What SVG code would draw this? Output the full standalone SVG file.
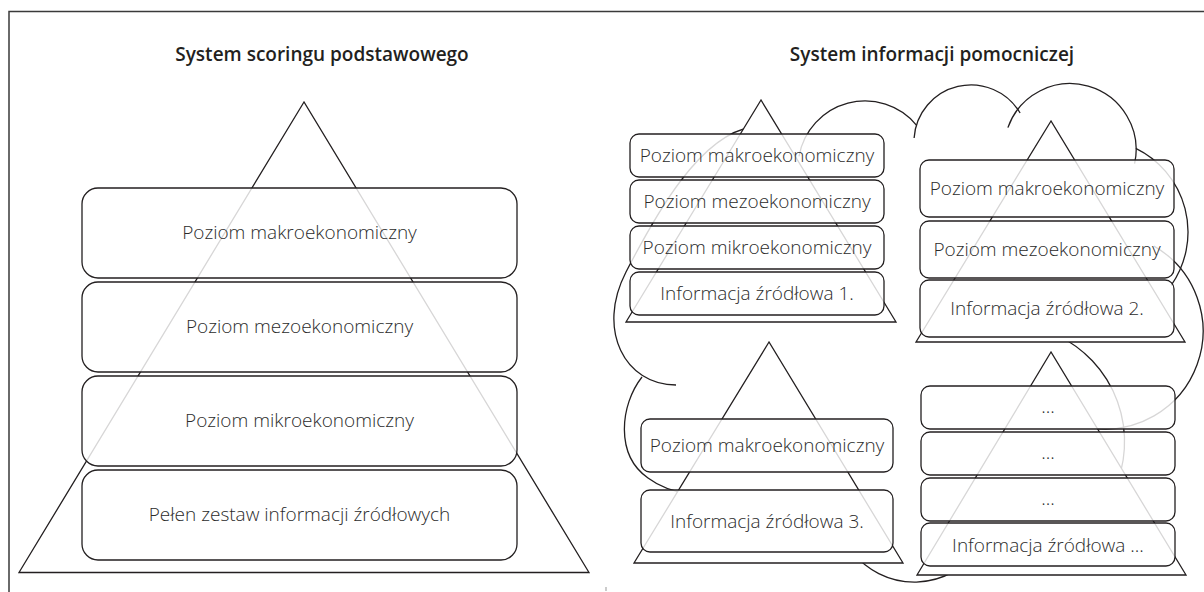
<svg xmlns="http://www.w3.org/2000/svg" width="1204" height="592" viewBox="0 0 1204 592">
  <style>
    .frame { fill: none; stroke: #3a3a3a; stroke-width: 1.5; }
    .title { font-family: "Open Sans", "Liberation Sans", sans-serif; font-weight: 600; font-size: 19px; fill: #231f20; text-anchor: middle; }
    .cloud path { fill: none; stroke: #231f20; stroke-width: 1.3; }
    .tri { fill: #fff; stroke: #231f20; stroke-width: 1.3; }
    .box { fill: #fff; fill-opacity: 0.82; stroke: #231f20; stroke-width: 1.3; }
    .lbl { font-family: "Open Sans", "Liberation Sans", sans-serif; font-weight: 300; font-size: 19px; fill: #2b2b2b; text-anchor: middle; }
  </style>

  <!-- outer frame (runs off the right and bottom edges) -->
  <rect class="frame" x="9" y="11.5" width="1210" height="600"/>
  <line x1="606" y1="587" x2="606" y2="591" stroke="#999" stroke-width="1"/>

  <!-- headings -->
  <text class="title" x="322" y="61">System scoringu podstawowego</text>
  <text class="title" x="932" y="61">System informacji pomocniczej</text>

  <!-- cloud outline behind the small pyramids -->
  <g id="cloud" class="cloud">
    <path d="M 752,127 C 700,135 656,214 626,272 C 596,330 625,385 676,385"/>
    <path d="M 642,377 C 620,405 615,455 648,478 C 660,487 675,492 690,494"/>
    <path d="M 799,156.4 A 67 67 0 0 1 916.6,125.3"/>
    <path d="M 914.1,138 A 57 57 0 0 1 1020.1,113"/>
    <path d="M 1007.9,127.6 A 66 66 0 0 1 1134.6,163.7"/>
    <path d="M 1135.8,148.4 A 93 93 0 0 1 1171.2,285.3"/>
    <path d="M 1154,246.1 A 98 98 0 0 1 1088,427.5"/>
    <path d="M 1056.5,335 A 117.8 117.8 0 0 1 1113.5,491.6"/>
    <path d="M 852.1,551.7 A 79 79 0 0 0 979.1,548.4"/>
  </g>

  <!-- main pyramid -->
  <g id="basic">
    <polygon class="tri" points="304,102 19,572.5 589,572.5"/>
    <rect class="box" x="82" y="188" width="435" height="90" rx="16"/>
    <rect class="box" x="82" y="282" width="435" height="90" rx="16"/>
    <rect class="box" x="82" y="376" width="435" height="90" rx="16"/>
    <rect class="box" x="82" y="470" width="435" height="90" rx="16"/>
    <text class="lbl" x="299.5" y="239">Poziom makroekonomiczny</text>
    <text class="lbl" x="299.5" y="333">Poziom mezoekonomiczny</text>
    <text class="lbl" x="299.5" y="427">Poziom mikroekonomiczny</text>
    <text class="lbl" x="299.5" y="521">Pełen zestaw informacji źródłowych</text>
  </g>

  <!-- source 1 -->
  <g id="source1">
    <polygon class="tri" points="761,100 626,322 896,322"/>
    <rect class="box" x="630" y="134" width="254" height="43" rx="9"/>
    <rect class="box" x="630" y="180" width="254" height="43" rx="9"/>
    <rect class="box" x="630" y="226" width="254" height="43" rx="9"/>
    <rect class="box" x="630" y="272" width="254" height="43" rx="9"/>
    <text class="lbl" x="757" y="162">Poziom makroekonomiczny</text>
    <text class="lbl" x="757" y="208">Poziom mezoekonomiczny</text>
    <text class="lbl" x="757" y="254">Poziom mikroekonomiczny</text>
    <text class="lbl" x="757" y="300">Informacja źródłowa 1.</text>
  </g>

  <!-- source 2 -->
  <g id="source2">
    <polygon class="tri" points="1051,121 916,342 1185,342"/>
    <rect class="box" x="920" y="160" width="254" height="57" rx="9"/>
    <rect class="box" x="920" y="221" width="254" height="57" rx="9"/>
    <rect class="box" x="920" y="280" width="254" height="57" rx="9"/>
    <text class="lbl" x="1047" y="195">Poziom makroekonomiczny</text>
    <text class="lbl" x="1047" y="256">Poziom mezoekonomiczny</text>
    <text class="lbl" x="1047" y="315">Informacja źródłowa 2.</text>
  </g>

  <!-- source 3 -->
  <g id="source3">
    <polygon class="tri" points="769,342 634,563 903,563"/>
    <rect class="box" x="641" y="419" width="252" height="53" rx="9"/>
    <rect class="box" x="641" y="490" width="252" height="62" rx="9"/>
    <text class="lbl" x="767" y="452">Poziom makroekonomiczny</text>
    <text class="lbl" x="767" y="527.5">Informacja źródłowa 3.</text>
  </g>

  <!-- further sources -->
  <g id="sourceN">
    <polygon class="tri" points="1051,352 917,575 1186,575"/>
    <rect class="box" x="921" y="386" width="254" height="43" rx="9"/>
    <rect class="box" x="921" y="432" width="254" height="43" rx="9"/>
    <rect class="box" x="921" y="478" width="254" height="43" rx="9"/>
    <rect class="box" x="921" y="523" width="254" height="43" rx="9"/>
    <text class="lbl" x="1048" y="413">...</text>
    <text class="lbl" x="1048" y="459">...</text>
    <text class="lbl" x="1048" y="505">...</text>
    <text class="lbl" x="1048" y="551.5">Informacja źródłowa ...</text>
  </g>
</svg>
